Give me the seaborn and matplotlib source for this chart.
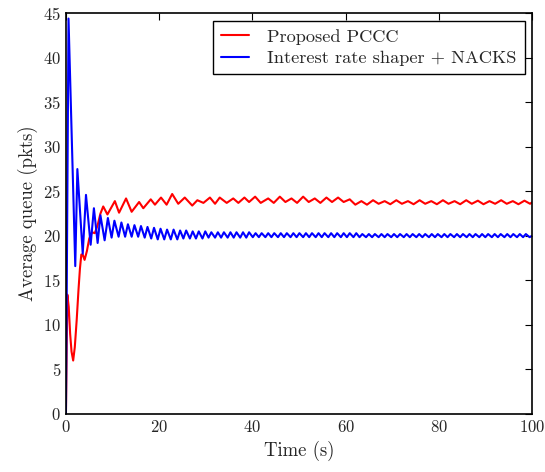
import pandas as pd
import matplotlib
matplotlib.use("Agg")
import matplotlib.pyplot as plt
import seaborn as sns

sns.set_style("white")
plt.rcParams["font.family"] = ["cmr10", "DejaVu Serif"]
plt.rcParams["mathtext.fontset"] = "cm"
plt.rcParams["axes.formatter.use_mathtext"] = True
plt.rcParams["xtick.direction"] = "in"
plt.rcParams["ytick.direction"] = "in"

# Proposed PCCC (peaks and troughs)
pccc_time = [0, 0.3, 0.6, 0.9, 1.2, 1.55, 1.9, 2.3, 2.7, 3.0,
             3.3, 3.6, 4.0, 4.5, 5.0, 5.6, 6.2, 6.8, 7.4, 8.0,
             8.9, 10.5, 11.4, 12.9, 14.1, 15.7, 16.6, 18.2, 19.1, 20.4,
             21.6, 22.8, 24.1, 25.5, 27.1, 28.2, 29.5, 30.9, 32.0, 33.0,
             34.5, 35.9, 37.0, 38.3, 39.3, 40.6, 41.8, 43.4, 44.6, 45.9,
             47.1, 48.4, 49.6, 50.9, 52.1, 53.4, 54.6, 55.9, 57.1, 58.4,
             59.6, 60.9, 62.1, 63.4, 64.6, 65.9, 67.1, 68.4, 69.6, 70.9,
             72.1, 73.4, 74.6, 75.9, 77.1, 78.4, 79.6, 80.9, 82.1, 83.4,
             84.6, 85.9, 87.1, 88.4, 89.6, 90.9, 92.1, 93.4, 94.6, 95.9,
             97.1, 98.4, 99.6, 100]
pccc_queue = [0, 13.4, 12.0, 9.0, 7.0, 6.0, 7.5, 10.5, 14.0, 16.3,
              17.9, 17.9, 17.3, 18.3, 19.7, 20.4, 20.3, 21.2, 22.5, 23.3,
              22.4, 23.9, 22.6, 24.2, 22.7, 23.8, 23.1, 24.1, 23.5, 24.3,
              23.5, 24.7, 23.6, 24.3, 23.4, 24.0, 23.7, 24.3, 23.6, 24.3,
              23.7, 24.2, 23.7, 24.3, 23.8, 24.4, 23.7, 24.2, 23.7, 24.4,
              23.8, 24.2, 23.7, 24.4, 23.8, 24.2, 23.7, 24.3, 23.8, 24.3,
              23.8, 24.1, 23.5, 23.9, 23.5, 24.0, 23.6, 23.9, 23.55, 24.0,
              23.6, 23.9, 23.55, 24.0, 23.6, 23.9, 23.55, 24.0, 23.6, 23.9,
              23.55, 24.0, 23.6, 23.95, 23.55, 23.9, 23.6, 24.0, 23.6, 23.9,
              23.55, 23.95, 23.6, 23.75]

# Interest rate shaper + NACKS
shaper_time = [0, 0.55, 2.0, 2.45, 3.6, 4.3, 5.3, 6.0, 6.8, 7.4,
               8.3, 9.0, 9.8, 10.4, 11.3, 11.9, 12.7, 13.3, 14.1, 14.7,
               15.5, 16.1, 16.9, 17.5, 18.3, 18.9, 19.7, 20.3, 21.1, 21.7,
               22.5, 23.1, 23.9, 24.5, 25.2, 25.8, 26.6, 27.2, 27.9, 28.5,
               29.3, 29.9, 30.6, 31.2, 32.0, 32.6, 33.3, 33.9, 34.7, 35.3,
               36.0, 36.6, 37.4, 38.0, 38.7, 39.3, 40.1, 40.7, 41.4, 42.0,
               42.8, 43.4, 44.1, 44.7, 45.5, 46.1, 46.8, 47.4, 48.2, 48.8,
               49.5, 50.1, 50.9, 51.5, 52.2, 52.8, 53.6, 54.2, 54.9, 55.5,
               56.3, 56.9, 57.6, 58.2, 59.0, 59.6, 60.3, 60.9, 61.7, 62.3,
               63.0, 63.6, 64.4, 65.0, 65.7, 66.3, 67.1, 67.7, 68.4, 69.0,
               69.8, 70.4, 71.1, 71.7, 72.5, 73.1, 73.8, 74.4, 75.2, 75.8,
               76.5, 77.1, 77.9, 78.5, 79.2, 79.8, 80.6, 81.2, 81.9, 82.5,
               83.3, 83.9, 84.6, 85.2, 86.0, 86.6, 87.3, 87.9, 88.7, 89.3,
               90.0, 90.6, 91.4, 92.0, 92.7, 93.3, 94.1, 94.7, 95.4, 96.0,
               96.8, 97.4, 98.1, 98.7, 99.5, 100]
shaper_queue = [0, 44.4, 16.6, 27.5, 18.0, 24.6, 19.0, 23.1, 19.2, 22.3,
                19.5, 22.0, 19.8, 21.7, 19.9, 21.5, 19.9, 21.3, 19.9, 21.2,
                19.9, 21.1, 19.8, 21.0, 19.7, 20.9, 19.6, 20.8, 19.6, 20.7,
                19.6, 20.7, 19.6, 20.6, 19.7, 20.6, 19.7, 20.5, 19.7, 20.5,
                19.7, 20.5, 19.8, 20.4, 19.8, 20.4, 19.8, 20.4, 19.8, 20.4,
                19.8, 20.4, 19.8, 20.4, 19.8, 20.4, 19.85, 20.3, 19.85, 20.3,
                19.85, 20.3, 19.85, 20.3, 19.85, 20.3, 19.85, 20.3, 19.85, 20.3,
                19.85, 20.3, 19.85, 20.3, 19.85, 20.3, 19.85, 20.3, 19.85, 20.3,
                19.85, 20.3, 19.85, 20.3, 19.85, 20.3, 19.85, 20.3, 19.85, 20.3,
                19.85, 20.2, 19.85, 20.2, 19.85, 20.2, 19.85, 20.2, 19.85, 20.2,
                19.85, 20.2, 19.85, 20.2, 19.85, 20.2, 19.85, 20.2, 19.85, 20.2,
                19.85, 20.2, 19.85, 20.2, 19.85, 20.2, 19.85, 20.2, 19.85, 20.2,
                19.85, 20.2, 19.85, 20.2, 19.85, 20.2, 19.85, 20.2, 19.85, 20.2,
                19.85, 20.2, 19.85, 20.2, 19.85, 20.2, 19.85, 20.2, 19.85, 20.2,
                19.85, 20.2, 19.85, 20.2, 19.85, 20.0]

series_names = ["Proposed PCCC", "Interest rate shaper + NACKS"]
series_colors = ["red", "blue"]

df = pd.concat([
    pd.DataFrame({"time": pccc_time, "queue": pccc_queue, "series": series_names[0]}),
    pd.DataFrame({"time": shaper_time, "queue": shaper_queue, "series": series_names[1]}),
], ignore_index=True)

fig = plt.figure(figsize=(5.45, 4.72), dpi=100)
ax = fig.add_axes([0.121, 0.123, 0.855, 0.849])

sns.lineplot(data=df, x="time", y="queue", hue="series", hue_order=series_names,
             palette=series_colors, sort=False, estimator=None, linewidth=1.5, ax=ax)

ax.set_xlim(0, 100)
ax.set_ylim(0, 45)
ax.set_xticks(range(0, 101, 20))
ax.set_yticks(range(0, 46, 5))
ax.tick_params(axis="both", which="both", top=True, right=True, labelsize=12,
               length=5, width=0.8, color="black")
ax.set_xlabel("Time (s)", fontsize=13.5)
ax.set_ylabel("Average queue (pkts)", fontsize=13.5)
for side in ax.spines.values():
    side.set_color("black")
    side.set_linewidth(1.2)

leg = ax.legend(loc="upper right", fontsize=13.2, frameon=True, fancybox=False,
                framealpha=1, edgecolor="black", handlelength=1.5,
                handletextpad=1.0, borderaxespad=0.4, labelspacing=0.3,
                borderpad=0.45)
leg.get_frame().set_linewidth(1.0)

fig.savefig("out.png", dpi=100)
